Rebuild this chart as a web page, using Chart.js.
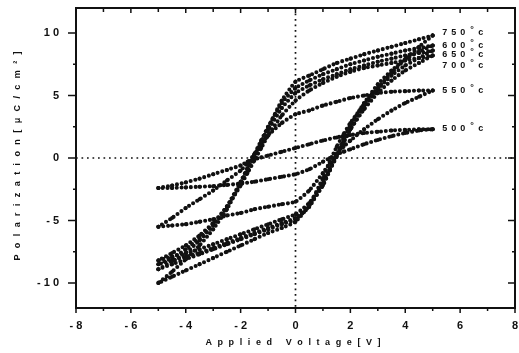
<!DOCTYPE html>
<html>
<head>
<meta charset="utf-8">
<script src="https://cdn.jsdelivr.net/npm/chart.js@4.4.1/dist/chart.umd.min.js"></script>
<style>
  html, body { margin: 0; padding: 0; background: #fff; }
</style>
</head>
<body>
<canvas id="myChart" width="519" height="353"></canvas>
<script>
// voltage sweep: down from +5 V to -5 V, then back up
var vDown = [5, 4.5, 4, 3.5, 3, 2.5, 2, 1.5, 1, 0.5, 0, -0.5, -1, -1.25, -1.5, -1.75, -2, -2.5, -3, -3.5, -4, -4.5, -5];
var vUp = [-5, -4.5, -4, -3.5, -3, -2.5, -2, -1.5, -1, -0.5, 0, 0.5, 1, 1.25, 1.5, 1.75, 2, 2.5, 3, 3.5, 4, 4.5, 5];

// polarization (uC/cm2) for each anneal temperature
var p750Down = [9.8, 9.5, 9.2, 8.9, 8.6, 8.3, 7.95, 7.6, 7.1, 6.6, 6.1, 4.6, 2.4, 1.3, 0.2, -0.9, -2.0, -4.1, -5.7, -7.0, -8.1, -9.1, -10.0];
var p750Up = [-10.0, -9.5, -9.0, -8.5, -8.0, -7.5, -7.0, -6.5, -6.0, -5.6, -5.1, -3.8, -1.6, -0.3, 0.9, 1.9, 2.8, 4.3, 5.6, 6.8, 7.9, 8.9, 9.8];
var p600Down = [9.0, 8.8, 8.6, 8.35, 8.1, 7.8, 7.5, 7.1, 6.7, 6.2, 5.6, 4.4, 2.5, 1.4, 0.3, -0.8, -1.9, -3.9, -5.4, -6.6, -7.6, -8.3, -8.9];
var p600Up = [-8.9, -8.5, -8.1, -7.7, -7.3, -6.9, -6.5, -6.1, -5.7, -5.3, -4.9, -3.9, -2.1, -0.9, 0.3, 1.5, 2.6, 4.4, 5.9, 7.0, 7.9, 8.5, 9.0];
var p650Down = [8.6, 8.4, 8.2, 7.95, 7.7, 7.4, 7.1, 6.7, 6.3, 5.8, 5.2, 4.0, 2.2, 1.1, 0.0, -1.1, -2.1, -3.9, -5.3, -6.4, -7.3, -8.0, -8.5];
var p650Up = [-8.5, -8.2, -7.9, -7.6, -7.2, -6.8, -6.4, -6.0, -5.6, -5.2, -4.8, -3.8, -2.2, -1.0, 0.1, 1.2, 2.3, 4.1, 5.5, 6.6, 7.4, 8.0, 8.6];
var p700Down = [8.2, 8.0, 7.8, 7.6, 7.4, 7.2, 6.9, 6.5, 6.0, 5.4, 4.6, 3.4, 1.8, 0.8, -0.2, -1.2, -2.2, -3.9, -5.2, -6.2, -7.0, -7.6, -8.2];
var p700Up = [-8.2, -7.9, -7.6, -7.3, -6.9, -6.5, -6.1, -5.7, -5.3, -4.9, -4.5, -3.6, -2.0, -0.9, 0.2, 1.3, 2.3, 3.9, 5.2, 6.2, 7.0, 7.6, 8.2];
var p550Down = [5.4, 5.4, 5.35, 5.3, 5.2, 5.0, 4.8, 4.5, 4.2, 3.8, 3.5, 2.8, 1.8, 1.1, 0.3, -0.4, -1.0, -1.8, -2.6, -3.3, -4.0, -4.8, -5.5];
var p550Up = [-5.5, -5.4, -5.3, -5.1, -4.9, -4.6, -4.4, -4.1, -3.9, -3.7, -3.5, -2.6, -1.2, -0.4, 0.3, 0.9, 1.4, 2.3, 3.1, 3.8, 4.4, 4.9, 5.4];
var p500Down = [2.3, 2.3, 2.25, 2.2, 2.1, 2.0, 1.85, 1.65, 1.4, 1.1, 0.8, 0.5, 0.2, 0.05, -0.1, -0.3, -0.6, -0.95, -1.3, -1.65, -1.95, -2.2, -2.4];
var p500Up = [-2.4, -2.4, -2.35, -2.3, -2.25, -2.15, -2.05, -1.9, -1.7, -1.5, -1.3, -0.9, -0.3, 0.0, 0.3, 0.5, 0.7, 1.1, 1.45, 1.75, 2.0, 2.2, 2.3];

var temps = ["750", "600", "650", "700", "550", "500"];
var labelAt = [10.0, 9.0, 8.3, 7.4, 5.4, 2.35];
var labelV = 5.35;

var xTicks = [-8, -6, -4, -2, 0, 2, 4, 6, 8];
var yTicks = [-10, -5, 0, 5, 10];

var downs = [p750Down, p600Down, p650Down, p700Down, p550Down, p500Down];
var ups = [p750Up, p600Up, p650Up, p700Up, p550Up, p500Up];

function loop(down, up) {
  var pts = [];
  for (var i = 0; i < vDown.length; i++) pts.push({ x: vDown[i], y: down[i] });
  for (var j = 0; j < vUp.length; j++) pts.push({ x: vUp[j], y: up[j] });
  return pts;
}

function spaced(v) {
  return String(v).split("").join(" ");
}

// draw text one char at a time so the letters are spread out like the scan
function spreadText(ctx, text, x, y, gap) {
  var w = 0;
  for (var i = 0; i < text.length; i++) w += ctx.measureText(text[i]).width + (i ? gap : 0);
  var cx = x - w / 2;
  for (var k = 0; k < text.length; k++) {
    ctx.fillText(text[k], cx, y);
    cx += ctx.measureText(text[k]).width + gap;
  }
}

var FONT = "'Liberation Sans', Arial, sans-serif";
var INK = "#111";

var frame = {
  id: "frame",
  beforeDatasetsDraw: function (chart) {
    var ctx = chart.ctx, a = chart.chartArea;
    var xs = chart.scales.x, ys = chart.scales.y;
    ctx.save();
    // dotted zero lines
    ctx.strokeStyle = INK;
    ctx.lineWidth = 1.7;
    ctx.lineCap = "butt";
    ctx.setLineDash([1.7, 3.8]);
    var x0 = xs.getPixelForValue(0), y0 = ys.getPixelForValue(0);
    ctx.beginPath();
    ctx.moveTo(x0, a.top); ctx.lineTo(x0, a.bottom);
    ctx.moveTo(a.left, y0); ctx.lineTo(a.right, y0);
    ctx.stroke();
    ctx.restore();
  },
  afterDraw: function (chart) {
    var ctx = chart.ctx, a = chart.chartArea;
    var xs = chart.scales.x, ys = chart.scales.y;
    ctx.save();
    ctx.setLineDash([]);
    ctx.lineCap = "butt";
    ctx.strokeStyle = INK;
    ctx.lineWidth = 2;
    ctx.strokeRect(a.left, a.top, a.right - a.left, a.bottom - a.top);
    ctx.lineWidth = 1.5;
    ctx.beginPath();
    // x ticks: outward at bottom, inward at top
    for (var v = -8; v <= 8; v++) {
      var px = xs.getPixelForValue(v);
      var major = v % 2 === 0;
      ctx.moveTo(px, a.bottom); ctx.lineTo(px, a.bottom + (major ? 5 : 3));
      ctx.moveTo(px, a.top); ctx.lineTo(px, a.top + (major ? 5 : 4));
    }
    // y ticks: outward at left, inward at right
    for (var p = -10; p <= 10; p += 2.5) {
      var py = ys.getPixelForValue(p);
      var maj = p % 5 === 0;
      ctx.moveTo(a.left, py); ctx.lineTo(a.left - (maj ? 8 : 3), py);
      ctx.moveTo(a.right, py); ctx.lineTo(a.right - (maj ? 7 : 3), py);
    }
    ctx.stroke();

    // axis titles
    ctx.fillStyle = INK;
    ctx.font = "bold 9px " + FONT;
    ctx.textBaseline = "middle";
    ctx.textAlign = "left";
    spreadText(ctx, "Applied Voltage[V]", 293, 343, 5.6);
    ctx.save();
    ctx.translate(18, 156);
    ctx.rotate(-Math.PI / 2);
    spreadText(ctx, "Polarization[\u03bcC/cm\u00b2]", 0, 0, 6.4);
    ctx.restore();

    // temperature labels at the loop ends
    ctx.font = "bold 9px " + FONT;
    for (var t = 0; t < temps.length; t++) {
      var lx = xs.getPixelForValue(labelV);
      var ly = ys.getPixelForValue(labelAt[t]);
      var s = temps[t];
      var cx = lx;
      for (var c = 0; c < s.length; c++) {
        ctx.fillText(s[c], cx, ly);
        cx += ctx.measureText(s[c]).width + 4;
      }
      ctx.fillText("\u00b0", cx + 1, ly - 3);
      ctx.fillText("c", cx + 9, ly);
    }
    ctx.restore();
  }
};

var datasets = [];
for (var i = 0; i < temps.length; i++) {
  datasets.push({
    label: temps[i] + " \u00b0C",
    data: loop(downs[i], ups[i]),
    showLine: true,
    borderColor: INK,
    borderWidth: 4.1,
    borderDash: [0, 4.7],
    borderCapStyle: "round",
    backgroundColor: INK,
    pointRadius: 2,
    pointBorderWidth: 0,
    pointHoverRadius: 2,
    tension: 0.15
  });
}

var ctx = document.getElementById("myChart").getContext("2d");
var chart = new Chart(ctx, {
  type: "scatter",
  data: { datasets: datasets },
  plugins: [frame],
  options: {
    responsive: false,
    animation: false,
    layout: { padding: { top: 8, right: 4, left: 0, bottom: 0 } },
    plugins: { legend: { display: false }, tooltip: { enabled: false } },
    scales: {
      x: {
        type: "linear",
        min: -8,
        max: 8,
        afterBuildTicks: function (s) { s.ticks = xTicks.map(function (v) { return { value: v }; }); },
        afterFit: function (s) { s.height = 45; s.paddingLeft = 0; s.paddingRight = 0; },
        ticks: {
          callback: function (v) { return spaced(v); },
          color: INK,
          font: { family: FONT, size: 11, weight: "bold" },
          padding: 11,
          maxRotation: 0
        },
        grid: { display: false, drawTicks: false },
        border: { display: false }
      },
      y: {
        type: "linear",
        min: -12,
        max: 12,
        afterBuildTicks: function (s) { s.ticks = yTicks.map(function (v) { return { value: v }; }); },
        afterFit: function (s) { s.width = 76; s.paddingTop = 0; s.paddingBottom = 0; },
        ticks: {
          callback: function (v) { return spaced(v); },
          color: INK,
          font: { family: FONT, size: 11, weight: "bold" },
          padding: 17
        },
        grid: { display: false, drawTicks: false },
        border: { display: false }
      }
    }
  }
});
</script>
</body>
</html>
